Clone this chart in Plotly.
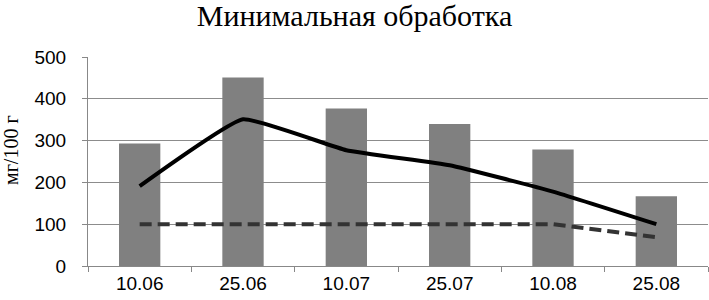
import plotly.graph_objects as go

categories = ["10.06", "25.06", "10.07", "25.07", "10.08", "25.08"]
bar_values = [293, 451, 377, 340, 279, 167]
solid_values = [191, 351, 277, 241, 178, 100]
dashed_values = [100, 100, 100, 100, 100, 69]
y_ticks = [0, 100, 200, 300, 400, 500]
y_title = "мг/100 г"

fig = go.Figure()
fig.add_trace(go.Bar(x=categories, y=bar_values, marker=dict(color="#808080", line=dict(width=0)),
                     width=0.4, showlegend=False))
fig.add_trace(go.Scatter(x=categories, y=solid_values, mode="lines",
                         line=dict(color="#000000", width=4, shape="spline", smoothing=0.35),
                         showlegend=False))
fig.add_trace(go.Scatter(x=categories, y=dashed_values, mode="lines",
                         line=dict(color="#333333", width=4, dash="12px,6px"),
                         showlegend=False))

fig.update_layout(
    width=709, height=300,
    margin=dict(l=88, r=1, t=57, b=34),
    paper_bgcolor="white", plot_bgcolor="white",
    title=dict(text="Минимальная обработка", x=0.5, xanchor="center",
               yref="container", y=1 - 15 / 300, yanchor="middle",
               font=dict(family="Liberation Serif", size=30, color="#000")),
    bargap=0.6,
)
fig.add_annotation(text=y_title, textangle=-90, xref="paper", yref="paper",
                   x=-77 / 620, y=(266 - 150) / 209, xanchor="center", yanchor="middle",
                   showarrow=False, font=dict(family="Liberation Serif", size=20, color="#000"))
fig.update_xaxes(type="category", tickson="boundaries", ticks="outside", ticklen=5,
                 tickcolor="#888", showline=True, linecolor="#888", linewidth=1,
                 showgrid=False, automargin=False,
                 tickfont=dict(family="Liberation Sans", size=19, color="#000"))
fig.update_yaxes(range=[0, 500], tickvals=y_ticks, ticks="outside", ticklen=5, tickcolor="#888",
                 showline=True, linecolor="#888", linewidth=1, automargin=False,
                 showgrid=True, gridcolor="#8c8c8c", gridwidth=1, zeroline=False,
                 ticklabelstandoff=12,
                 tickfont=dict(family="Liberation Sans", size=19, color="#000"))

fig.write_html("out.html", config={"displayModeBar": False},
               post_script="document.body.style.margin='0';document.body.style.overflow='hidden';")
